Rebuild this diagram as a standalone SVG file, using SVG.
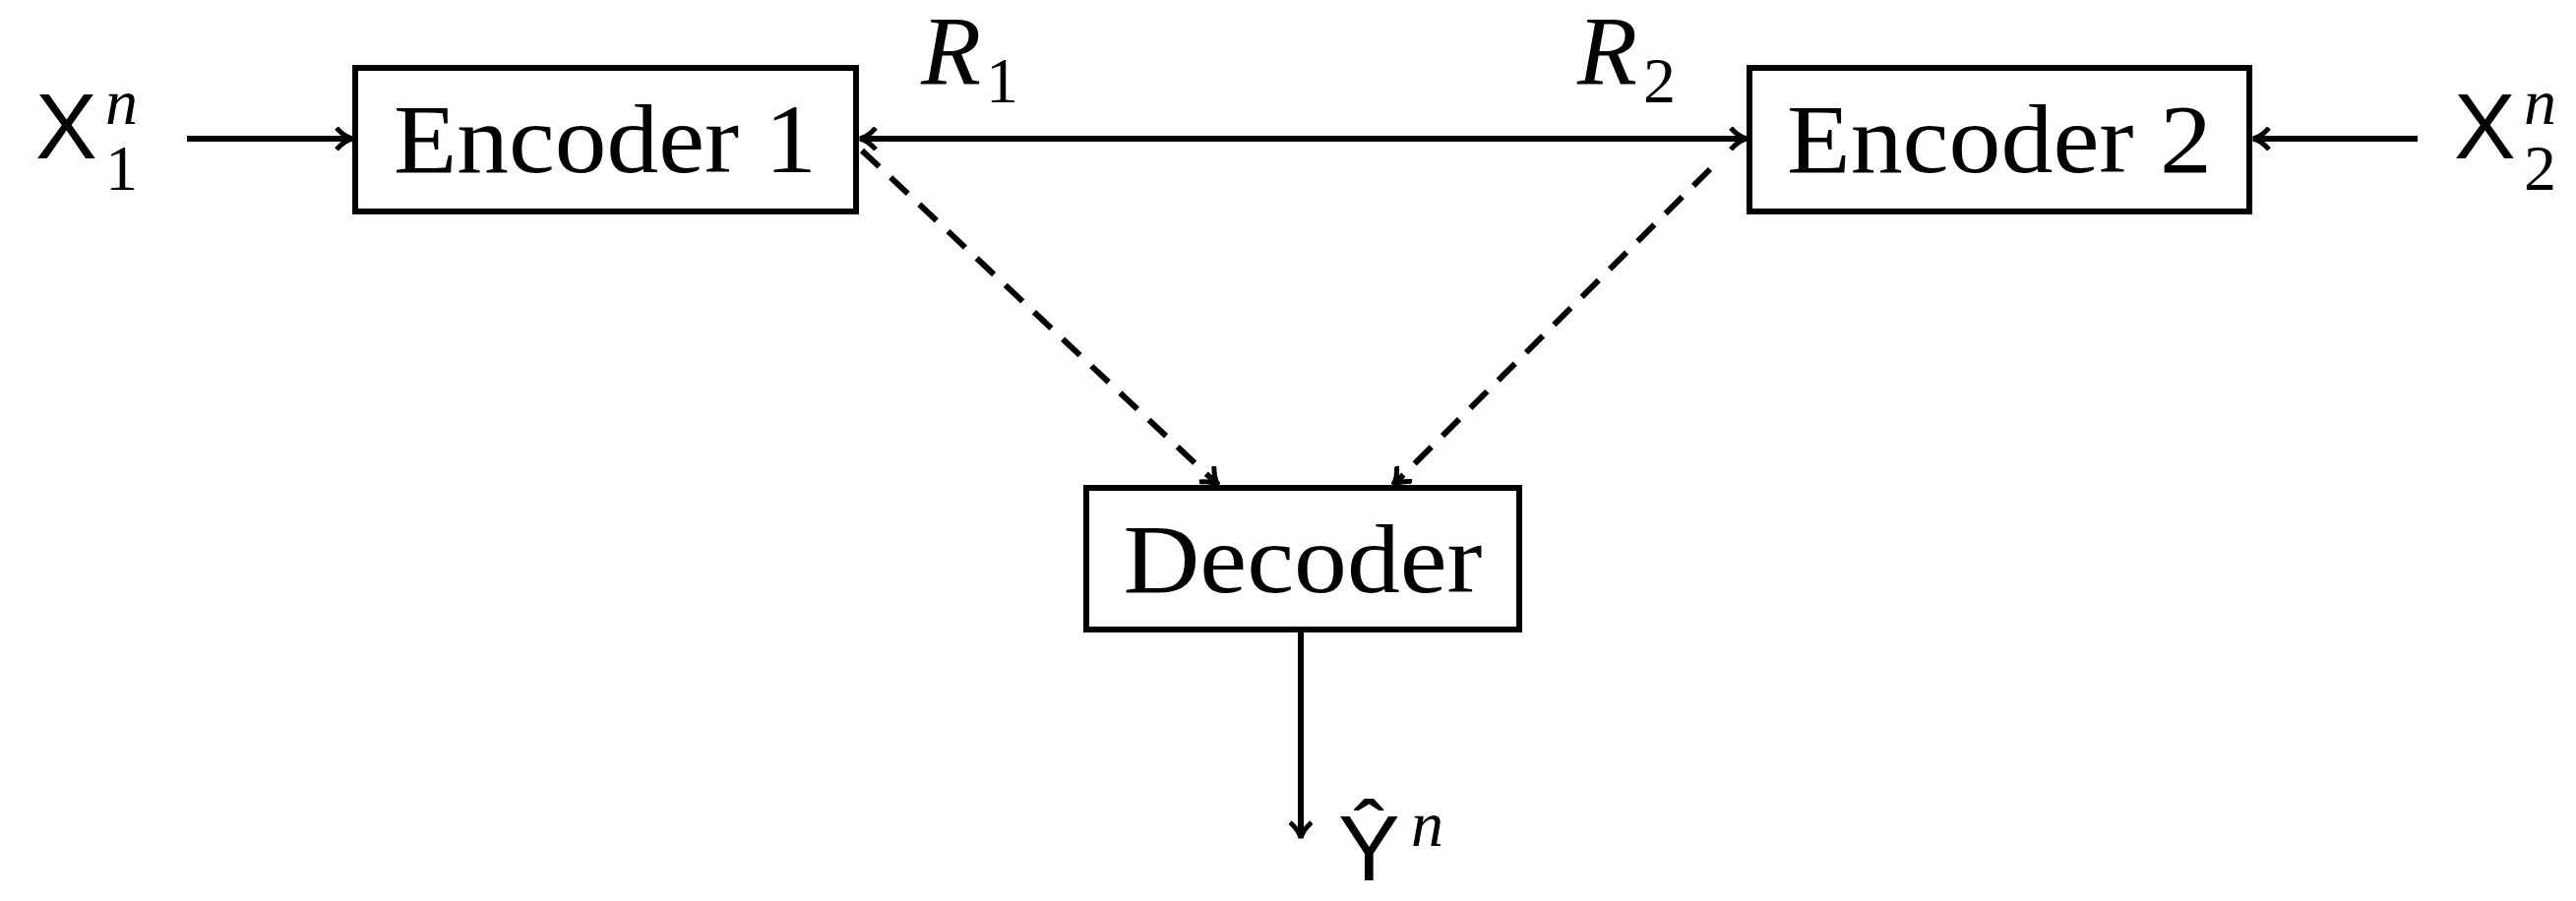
<svg xmlns="http://www.w3.org/2000/svg" width="2618" height="916" viewBox="0 0 2618 916">
<style>
.box{fill:#fff;stroke:#000;stroke-width:6}
.lbl{font-family:"Liberation Serif",serif;font-size:100px;fill:#000}
.math{font-family:"Liberation Sans",sans-serif;font-size:94px;fill:#000}
.it{font-family:"Liberation Serif",serif;font-style:italic;fill:#000}
.sub{font-family:"Liberation Serif",serif;font-size:66px;fill:#000}
.ln{stroke:#000;stroke-width:6;fill:none}
.dash{stroke-dasharray:24 16}
</style>
<defs>
<marker id="ah" viewBox="0 0 20 24" refX="18" refY="12" markerWidth="20" markerHeight="24" markerUnits="userSpaceOnUse" orient="auto-start-reverse">
<path d="M2,1 Q10,10 18,12 Q10,14 2,23" fill="none" stroke="#000" stroke-width="5"/>
</marker>
</defs>
<g id="connectors">
<line class="ln" x1="190" y1="141" x2="358" y2="141" marker-end="url(#ah)"/>
<line class="ln" x1="874" y1="141" x2="1775" y2="141" marker-start="url(#ah)" marker-end="url(#ah)"/>
<line class="ln" x1="2457" y1="141" x2="2290" y2="141" marker-end="url(#ah)"/>
<line class="ln dash" x1="876" y1="153" x2="1238" y2="493" marker-end="url(#ah)"/>
<line class="ln dash" x1="1738" y1="172" x2="1416" y2="493" marker-end="url(#ah)"/>
<line class="ln" x1="1322" y1="640" x2="1322" y2="852" marker-end="url(#ah)"/>
</g>
<g id="enc1">
<rect class="box" x="361" y="69" width="509" height="146"/>
<text class="lbl" x="615" y="175" text-anchor="middle" textLength="430" lengthAdjust="spacingAndGlyphs">Encoder 1</text>
</g>
<g id="enc2">
<rect class="box" x="1778" y="69" width="508" height="146"/>
<text class="lbl" x="2032" y="175" text-anchor="middle" textLength="432" lengthAdjust="spacingAndGlyphs">Encoder 2</text>
</g>
<g id="dec">
<rect class="box" x="1104" y="496" width="440" height="144"/>
<text class="lbl" x="1324" y="602" text-anchor="middle" textLength="365" lengthAdjust="spacingAndGlyphs">Decoder</text>
</g>
<g id="labels">
<text class="math" x="36" y="161">X</text>
<text class="it" x="107" y="126" font-size="66">n</text>
<text class="sub" x="107" y="193">1</text>
<text class="math" x="2494" y="161">X</text>
<text class="it" x="2565" y="126" font-size="66">n</text>
<text class="sub" x="2565" y="193">2</text>
<text class="it" x="936" y="85" font-size="100">R</text>
<text class="sub" x="1002" y="104">1</text>
<text class="it" x="1603" y="85" font-size="100">R</text>
<text class="sub" x="1670" y="104">2</text>
<text class="math" x="1360" y="895">Ŷ</text>
<text class="it" x="1434" y="860" font-size="66">n</text>
</g>
</svg>
